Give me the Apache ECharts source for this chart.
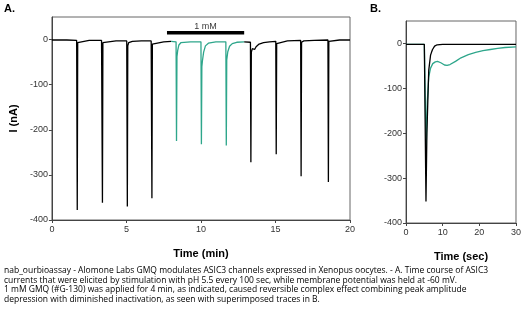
<!DOCTYPE html>
<html><head><meta charset="utf-8">
<script src="https://cdn.jsdelivr.net/npm/echarts@6/dist/echarts.min.js"></script>
<style>html,body{margin:0;padding:0;background:#fff}#c{width:524px;height:324px}</style>
</head><body><div id="c"></div>
<script>
// Panel A: time (min) vs current (nA)
var aBlackBefore = [[0,-1],[1.0,-1],[1.66,-2],[1.68,-3],[1.70,-378],[1.73,-7],[1.8,-4],[2.5,-2],[3.33,-2],[3.36,-3],[3.39,-362],[3.42,-7],[3.5,-4],[4.3,-3],[5.02,-3],[5.04,-4],[5.06,-370],[5.09,-14],[5.15,-7],[5.4,-4],[6.0,-3],[6.66,-3],[6.69,-4],[6.71,-352],[6.74,-10],[6.85,-7],[7.5,-5],[8.0,-4]];
var aGreenGmq = [[8.0,-4],[8.33,-5],[8.36,-225],[8.39,-38],[8.44,-24],[8.52,-12],[8.65,-7],[9.3,-5],[10.0,-5],[10.03,-232],[10.06,-60],[10.1,-47],[10.18,-28],[10.3,-14],[10.5,-8],[11.0,-5],[11.67,-5],[11.70,-235],[11.73,-45],[11.8,-27],[11.92,-15],[12.1,-9],[12.4,-6],[12.9,-5]];
var aBlackAfter = [[12.9,-5],[13.32,-6],[13.35,-272],[13.38,-28],[13.45,-20],[13.52,-18],[13.6,-22],[13.7,-16],[13.9,-10],[14.2,-7],[14.6,-5],[15.02,-4],[15.05,-254],[15.08,-9],[15.2,-5],[15.8,-3],[16.69,-2],[16.72,-303],[16.75,-6],[16.9,-3],[17.6,-2],[18.52,-1],[18.55,-316],[18.58,-4],[18.7,-2],[19.3,-1],[20,-1]];
var aGmqBar = [[7.72,15],[12.9,15]];
var aGmqLabel = [[10.3,30]];
var aGmqText = '1 mM';
// Panel B: time (sec) vs current (nA), superimposed traces
var bGreen = [[0,-2],[5.0,-2],[5.2,-3],[5.5,-238],[5.8,-130],[6.2,-75],[6.7,-55],[7.3,-45],[8.0,-41],[8.6,-40],[9.5,-43],[10.5,-48],[11.2,-49],[12,-47],[13.5,-40],[15,-32],[17,-25],[19,-20],[21,-16],[23,-13.5],[25,-11],[27,-9],[30,-7.5]];
var bBlack = [[0,-2],[5.0,-2],[5.2,-3],[5.45,-352],[5.7,-200],[6.2,-60],[6.7,-26],[7.2,-14],[7.8,-6],[8.5,-3],[10,-2],[30,-2]];
var yTicks = [0,-100,-200,-300,-400];
var xTicksA = [0,5,10,15,20];
var xTicksB = [0,10,20,30];
var caption = [
 'nab_ourbioassay - Alomone Labs GMQ modulates ASIC3 channels expressed in Xenopus oocytes. - A. Time course of ASIC3',
 'currents that were elicited by stimulation with pH 5.5 every 100 sec, while membrane potential was held at -60 mV.',
 '1 mM GMQ (#G-130) was applied for 4 min, as indicated, caused reversible complex effect combining peak amplitude',
 'depression with diminished inactivation, as seen with superimposed traces in B.'
];

var GREEN = '#2ea68b';
var tickFont = {fontFamily:'Liberation Sans', fontSize:9, color:'#333'};
function yAxisCfg(idx, name){
  return {type:'value', gridIndex:idx, min:-400, max:50,
    name:name, nameLocation:'middle', nameRotate:90, nameGap:31,
    nameTextStyle:{fontFamily:'Liberation Sans', fontSize:11, fontWeight:'bold', color:'#000'},
    axisLine:{show:true, lineStyle:{color:'#444', width:1}},
    axisTick:{show:true, length:3, inside:false, customValues:yTicks, lineStyle:{color:'#444'}},
    axisLabel:Object.assign({customValues:yTicks, margin:4}, tickFont),
    splitLine:{show:false}};
}
function xAxisCfg(idx, min, max, ticks, name){
  return {type:'value', gridIndex:idx, min:min, max:max,
    name:name, nameLocation:'middle', nameGap:28,
    nameTextStyle:{fontFamily:'Liberation Sans', fontSize:11, fontWeight:'bold', color:'#000'},
    axisLine:{show:true, onZero:false, lineStyle:{color:'#444', width:1}},
    axisTick:{show:true, length:3, customValues:ticks, lineStyle:{color:'#444'}},
    axisLabel:Object.assign({customValues:ticks, margin:5}, tickFont),
    splitLine:{show:false}};
}
var chart = echarts.init(document.getElementById('c'), null, {renderer:'canvas'});
var lineBase = {type:'line', showSymbol:false, symbol:'none', animation:false, silent:true};
chart.setOption({
  animation:false,
  grid:[
    {left:47, right:174, top:17, bottom:104, show:true, borderColor:'#666', borderWidth:1, backgroundColor:'transparent'},
    {left:406, right:5, top:21, bottom:101, show:true, borderColor:'#666', borderWidth:1, backgroundColor:'transparent'}
  ],
  xAxis:[xAxisCfg(0,0,20,xTicksA,'Time (min)'), xAxisCfg(1,0,30,xTicksB,'Time (sec)')],
  yAxis:[yAxisCfg(0,'I (nA)'), yAxisCfg(1,'')],
  series:[
    Object.assign({}, lineBase, {xAxisIndex:0, yAxisIndex:0, data:aBlackBefore, lineStyle:{color:'#000', width:1.3}}),
    Object.assign({}, lineBase, {xAxisIndex:0, yAxisIndex:0, data:aGreenGmq, lineStyle:{color:GREEN, width:1.3}}),
    Object.assign({}, lineBase, {xAxisIndex:0, yAxisIndex:0, data:aBlackAfter, lineStyle:{color:'#000', width:1.3}}),
    Object.assign({}, lineBase, {xAxisIndex:0, yAxisIndex:0, data:aGmqBar, lineStyle:{color:'#000', width:3.5}}),
    {type:'scatter', xAxisIndex:0, yAxisIndex:0, data:aGmqLabel, symbolSize:0, silent:true,
      label:{show:true, position:'inside', formatter:aGmqText, fontFamily:'Liberation Sans', fontSize:9, color:'#000'}},
    Object.assign({}, lineBase, {xAxisIndex:1, yAxisIndex:1, data:bGreen, lineStyle:{color:GREEN, width:1.3}}),
    Object.assign({}, lineBase, {xAxisIndex:1, yAxisIndex:1, data:bBlack, lineStyle:{color:'#000', width:1.3}})
  ],
  graphic:[
    {type:'text', left:4, top:3, style:{text:'A.', fontFamily:'Liberation Sans', fontSize:11, fontWeight:'bold', fill:'#000'}},
    {type:'text', left:370, top:3, style:{text:'B.', fontFamily:'Liberation Sans', fontSize:11, fontWeight:'bold', fill:'#000'}},
    {type:'text', left:4, top:266, style:{text:caption.join('\n'), fontFamily:'Open Sans', fontSize:8.5, lineHeight:9.6, fill:'#000'}}
  ]
});
</script></body></html>
